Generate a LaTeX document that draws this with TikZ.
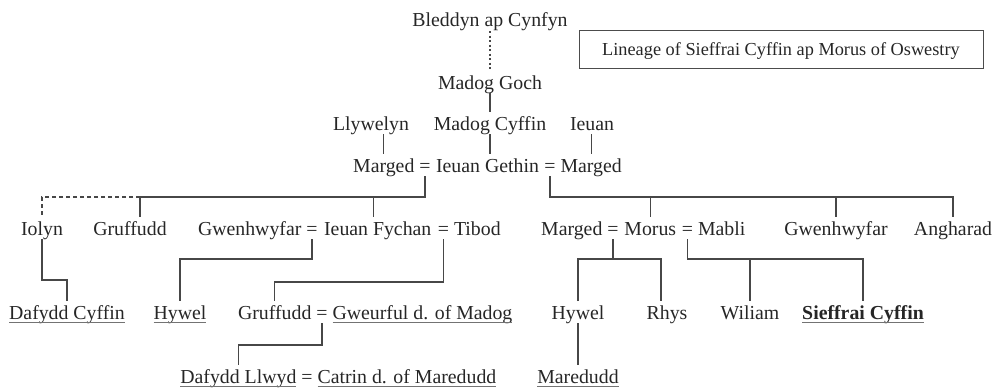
\documentclass[tikz,border=0pt]{standalone}
\usepackage{fontspec}
\setmainfont{Liberation Serif}
\begin{document}
\begin{tikzpicture}[x=1pt,y=-1pt,
  pn/.style={inner sep=0pt, outer sep=0pt, anchor=base, text height=18pt, text depth=4pt,
     font=\fontsize{19.8}{22}\selectfont, text=black!85},
  eqn/.style={pn},
  link/.style={draw=black!72, line width=1.1pt},
  dashlink/.style={link, dash pattern=on 4pt off 3pt},
  dotlink/.style={link, dash pattern=on 2pt off 2.5pt},
  ulline/.style={draw=black!55, line width=0.9pt},
  titlebox/.style={draw=black!70, line width=0.9pt, inner sep=0pt, minimum width=404pt,
     minimum height=38pt, text height=13pt, text depth=0pt, anchor=center,
     font=\fontsize{18.3}{20}\selectfont, text=black!85}
]
\useasboundingbox (0,0) rectangle (995,388);

% title box
\node[titlebox] (title) at (781,49) {Lineage of Sieffrai Cyffin ap Morus of Oswestry};

% rows 1-3
\node[pn] (bl) at (490,27) {Bleddyn ap Cynfyn};
\node[pn] (mg) at (490,89) {Madog Goch};
\node[pn] (ll) at (371,130) {Llywelyn};
\node[pn] (mc) at (490,130) {Madog Cyffin};
\node[pn] (ie) at (592,130) {Ieuan};

% row 4
\node[eqn] (e41) at (425,172) {=};
\node[eqn] (e42) at (550,172) {=};
\node[pn] (ig) at (487.5,172) {Ieuan Gethin};
\node[pn, anchor=base east] (m41) at ([xshift=-5pt]e41.base west) {Marged};
\node[pn, anchor=base west] (m42) at ([xshift=5pt]e42.base east) {Marged};

% row 5
\node[pn] (io) at (42,235) {Iolyn};
\node[pn] (gr5) at (130,235) {Gruffudd};
\node[eqn] (e51) at (312,235) {=};
\node[eqn] (e52) at (443.5,235) {=};
\node[pn] (if) at (377.75,235) {Ieuan Fychan};
\node[pn, anchor=base east] (gw5) at ([xshift=-5pt]e51.base west) {Gwenhwyfar};
\node[pn, anchor=base west] (ti) at ([xshift=5pt]e52.base east) {Tibod};
\node[eqn] (e53) at (613,235) {=};
\node[eqn] (e54) at (687.5,235) {=};
\node[pn] (mo) at (650.25,235) {Morus};
\node[pn, anchor=base east] (mm) at ([xshift=-5pt]e53.base west) {Marged};
\node[pn, anchor=base west] (mb) at ([xshift=5pt]e54.base east) {Mabli};
\node[pn] (gw6) at (836,235) {Gwenhwyfar};
\node[pn] (an) at (953,235) {Angharad};

% row 6
\node[pn] (dc) at (67,319) {Dafydd Cyffin};
\node[pn] (hy6) at (180,319) {Hywel};
\node[eqn] (e61) at (322,319) {=};
\node[pn, anchor=base east] (gr6) at ([xshift=-5pt]e61.base west) {Gruffudd};
\node[pn, anchor=base west] (gf) at ([xshift=5pt]e61.base east) {Gweurful d. of Madog};
\node[pn] (hy7) at (578,319) {Hywel};
\node[pn] (rh) at (667,319) {Rhys};
\node[pn] (wi) at (750,319) {Wiliam};
\node[pn, font=\fontsize{19.8}{22}\selectfont\bfseries] (si) at (863,319) {Sieffrai Cyffin};

% row 7
\node[eqn] (e71) at (307,383) {=};
\node[pn, anchor=base east] (dl) at ([xshift=-5pt]e71.base west) {Dafydd Llwyd};
\node[pn, anchor=base west] (ca) at ([xshift=5pt]e71.base east) {Catrin d. of Maredudd};
\node[pn] (ma) at (578,383) {Maredudd};

% underlines
\foreach \n in {dc,hy6,gf,si,dl,ca,ma}
  \draw[ulline] ([yshift=-3.5pt]\n.base west) -- ([yshift=-3.5pt]\n.base east);

% connectors, upper part
\draw[dotlink] (bl.south) -- (mg.north);
\draw[link] (mg.south) -- (mc.north);
\draw[link] (m41.north |- ll.south) -- (m41.north);
\draw[link] (mc.south) -- (mc.south |- ig.north);
\draw[link] (m42.north |- ie.south) -- (m42.north);

% children of Ieuan Gethin and first Marged
\coordinate (g5top) at ([xshift=10pt]gr5.north);
\coordinate (iftop) at ([xshift=-4pt]if.north);
\draw[link] (e41.south) -- ++(0,21) coordinate (b41) -| (g5top);
\draw[link] (b41 -| iftop) -- (iftop);
\draw[dashlink] (b41 -| g5top) -| (io.north);

% children of Ieuan Gethin and second Marged
\draw[link] (e42.south) -- ++(0,21) coordinate (b42) -| (an.north);
\draw[link] (b42 -| mo.north) -- (mo.north);
\draw[link] (b42 -| gw6.north) -- (gw6.north);

% row 5 to row 6
\draw[link] (io.south) -- ++(0,41) -| (dc.north);
\draw[link] (e51.south) -- ++(0,20) -| (hy6.north);
\draw[link] (e52.south) -- ++(0,43) -| (gr6.north);
\draw[link] (e53.south) -- ++(0,20) coordinate (b53);
\draw[link] (hy7.north) |- (b53) -| ([xshift=-6pt]rh.north);
\draw[link] (e54.south) -- ++(0,20) coordinate (b54) -| (si.north);
\draw[link] (b54 -| wi.north) -- (wi.north);

% row 6 to row 7
\draw[link] (e61.south) -- ++(0,22) -| (dl.north);
\draw[link] (hy7.south) -- (hy7.south |- ma.north);
\end{tikzpicture}
\end{document}
